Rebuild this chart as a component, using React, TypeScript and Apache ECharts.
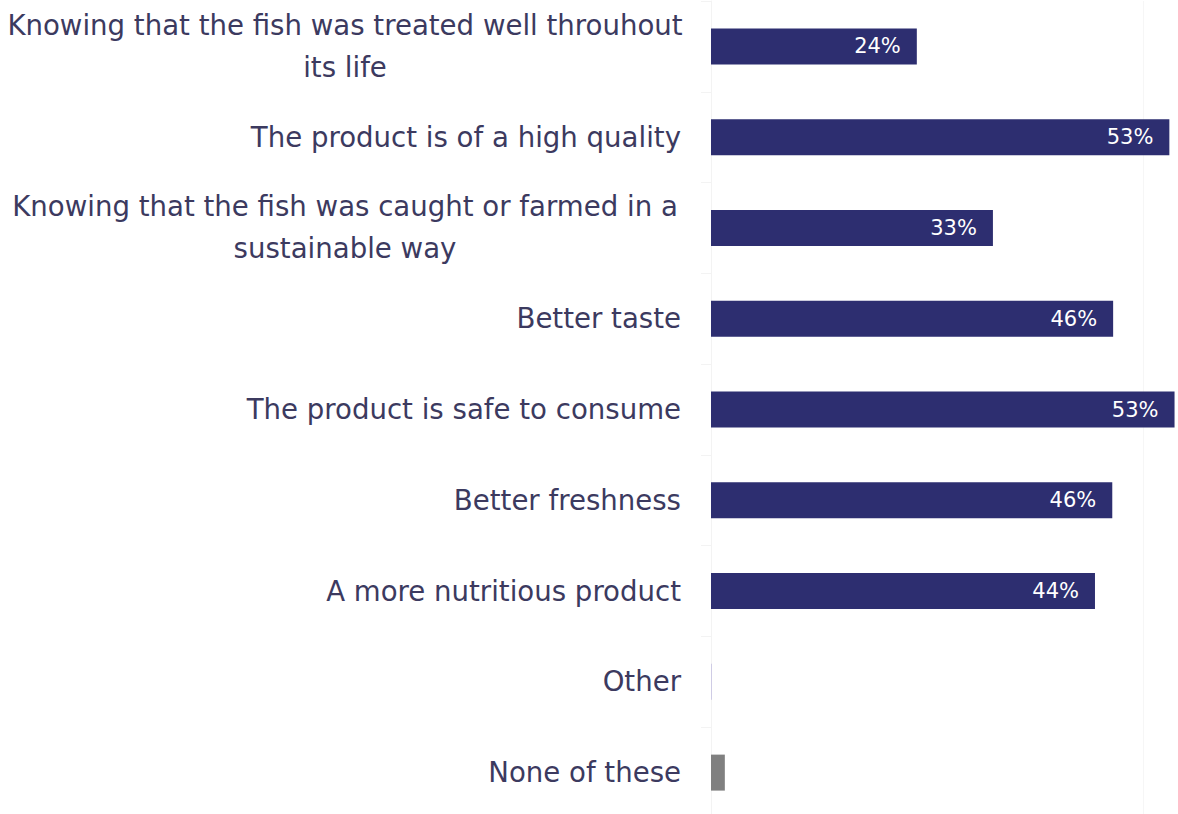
import React, { useEffect, useRef } from "react";
import * as echarts from "echarts";

const categories = [
  "Knowing that the fish was treated well throuhout\nits life",
  "The product is of a high quality",
  "Knowing that the fish was caught or farmed in a\nsustainable way",
  "Better taste",
  "The product is safe to consume",
  "Better freshness",
  "A more nutritious product",
  "Other",
  "None of these",
];
const values = [23.8, 53.0, 32.6, 46.5, 53.6, 46.4, 44.4, 0.1, 1.6];
const valueLabels = ["24%", "53%", "33%", "46%", "53%", "46%", "44%", "", ""];
const barColors = ["#2d2e70", "#2d2e70", "#2d2e70", "#2d2e70", "#2d2e70", "#2d2e70", "#2d2e70", "#c9c6e2", "#808080"];

export default function App() {
  const ref = useRef<HTMLDivElement>(null);
  useEffect(() => {
    if (!ref.current) return;
    const chart = echarts.init(ref.current, null, { renderer: "svg" });
    chart.setOption({
      animation: false,
      grid: { left: 711, right: 0, top: 1, height: 817, outerBoundsMode: "none", containLabel: false },
      xAxis: {
        type: "value",
        min: 0,
        max: 54,
        interval: 50,
        axisLabel: { show: false },
        axisLine: { show: false },
        axisTick: { show: false },
        splitLine: { show: true, lineStyle: { color: "#f6f6f6", width: 1 } },
      },
      yAxis: {
        type: "category",
        inverse: true,
        data: categories.map((c) =>
          c.includes("\n")
            ? { value: c, textStyle: { align: "center", padding: [0, 672, 4, 0] } }
            : { value: c, textStyle: { padding: [0, 0, 4, 0] } }
        ),
        axisLine: { show: true, lineStyle: { color: "#f3f3f3" } },
        axisTick: { show: true, length: 10, lineStyle: { color: "#f3f3f3" } },
        axisLabel: {
          margin: 30,
          fontFamily: "DejaVu Sans",
          fontSize: 27.6,
          color: "#3c3a5f",
          lineHeight: 42,
          align: "right",
        },
      },
      series: [
        {
          type: "bar",
          barWidth: 36,
          data: values.map((v, i) => ({ value: v, itemStyle: { color: barColors[i] } })),
          label: {
            show: true,
            position: "insideRight",
            distance: 16,
            color: "#ffffff",
            fontFamily: "DejaVu Sans",
            fontSize: 21,
            formatter: (p: any) => valueLabels[p.dataIndex],
          },
        },
      ],
    });
    return () => chart.dispose();
  }, []);
  return (
    <div
      ref={ref}
      style={{ position: "fixed", left: 0, top: 0, width: 1178, height: 814, background: "#ffffff" }}
    />
  );
}
